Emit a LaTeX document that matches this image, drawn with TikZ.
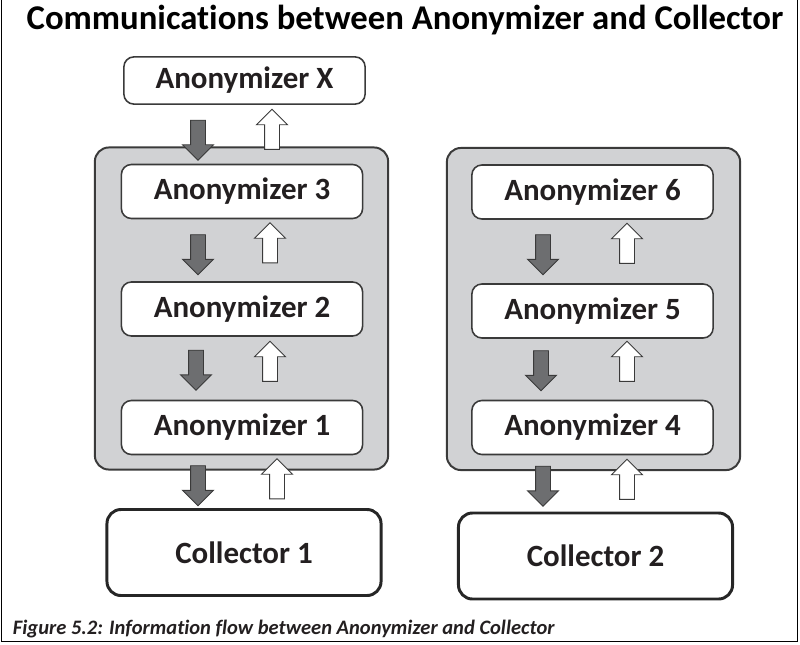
\documentclass[tikz,border=0pt]{standalone}
\usepackage{fontspec}
\setmainfont{Carlito}[Ligatures=NoCommon]
\usetikzlibrary{shapes.arrows}

\definecolor{boxgray}{HTML}{D1D2D4}
\definecolor{arrowgray}{HTML}{6D6E70}
\definecolor{linegray}{HTML}{3A3A3A}
\definecolor{inkblack}{HTML}{231F20}

\tikzset{
  anonbox/.style={draw=linegray, line width=1.1pt, fill=white, rounded corners=0.25cm,
    minimum width=6.03cm, minimum height=1.35cm, font=\fontsize{22}{24}\selectfont\bfseries, text=inkblack},
  collbox/.style={draw=black!85, line width=2.1pt, fill=white, rounded corners=0.35cm,
    minimum width=6.85cm, minimum height=2.15cm, font=\fontsize{22}{24}\selectfont\bfseries, text=inkblack},
  groupbox/.style={draw=linegray, line width=1.4pt, fill=boxgray, rounded corners=0.35cm,
    minimum width=7.33cm, minimum height=8.05cm},
  downarrow/.style={single arrow, shape border rotate=270, draw=linegray, line width=0.7pt, fill=arrowgray,
    minimum height=1cm, inner sep=0.175cm, single arrow head extend=0.2cm},
  uparrow/.style={downarrow, shape border rotate=90, fill=white}
}

\begin{document}
\begin{tikzpicture}[x=0.025cm, y=-0.025cm]

\useasboundingbox (0,0) rectangle (800,644);

\draw [line width=1.4pt] (1.5,0) -- (1.5,641.5) -- (797.5,641.5) -- (797.5,0);

\node[anchor=base, font=\fontsize{24.7}{26}\selectfont\bfseries, text=black] (title) at (405,30) {Communications between Anonymizer and Collector};

% left column
\node[groupbox] (groupL) at (241.5,308.5) {};
\node[anonbox, minimum height=1.18cm] (anonX) at (244.5,80.5) {Anonymizer X};
\node[anonbox] (anon3) at (242,191.5) {Anonymizer 3};
\node[anonbox] (anon2) at (242,309) {Anonymizer 2};
\node[anonbox] (anon1) at (242,427.5) {Anonymizer 1};
\node[collbox] (coll1) at (244,552.5) {Collector 1};

% right column
\node[groupbox] (groupR) at (593.5,309) {};
\node[anonbox] (anon6) at (592.5,192) {Anonymizer 6};
\node[anonbox] (anon5) at (592.5,311) {Anonymizer 5};
\node[anonbox] (anon4) at (592.5,427.5) {Anonymizer 4};
\node[collbox] (coll2) at (595.5,556) {Collector 2};

% arrows
\node[downarrow] (dX) at (198,136.5) {};
\node[uparrow] (uX) at (272,133) {};
\node[downarrow] (d3) at (198,251) {};
\node[uparrow] (u3) at (270,246.5) {};
\node[downarrow] (d2) at (196,366.5) {};
\node[uparrow] (u2) at (270,365) {};
\node[downarrow] (d1) at (198,482) {};
\node[uparrow] (u1) at (277,482.5) {};

\node[downarrow] (d6) at (543,251) {};
\node[uparrow] (u6) at (627,247) {};
\node[downarrow] (d5) at (541,367) {};
\node[uparrow] (u5) at (627,365) {};
\node[downarrow] (d4) at (543,482.5) {};
\node[uparrow] (u4) at (627,483) {};

\node[anchor=base west, font=\fontsize{14.6}{16}\selectfont\bfseries\itshape, text=inkblack] (caption) at (8,634) {Figure 5.2: Information flow between Anonymizer and Collector};

\end{tikzpicture}
\end{document}
